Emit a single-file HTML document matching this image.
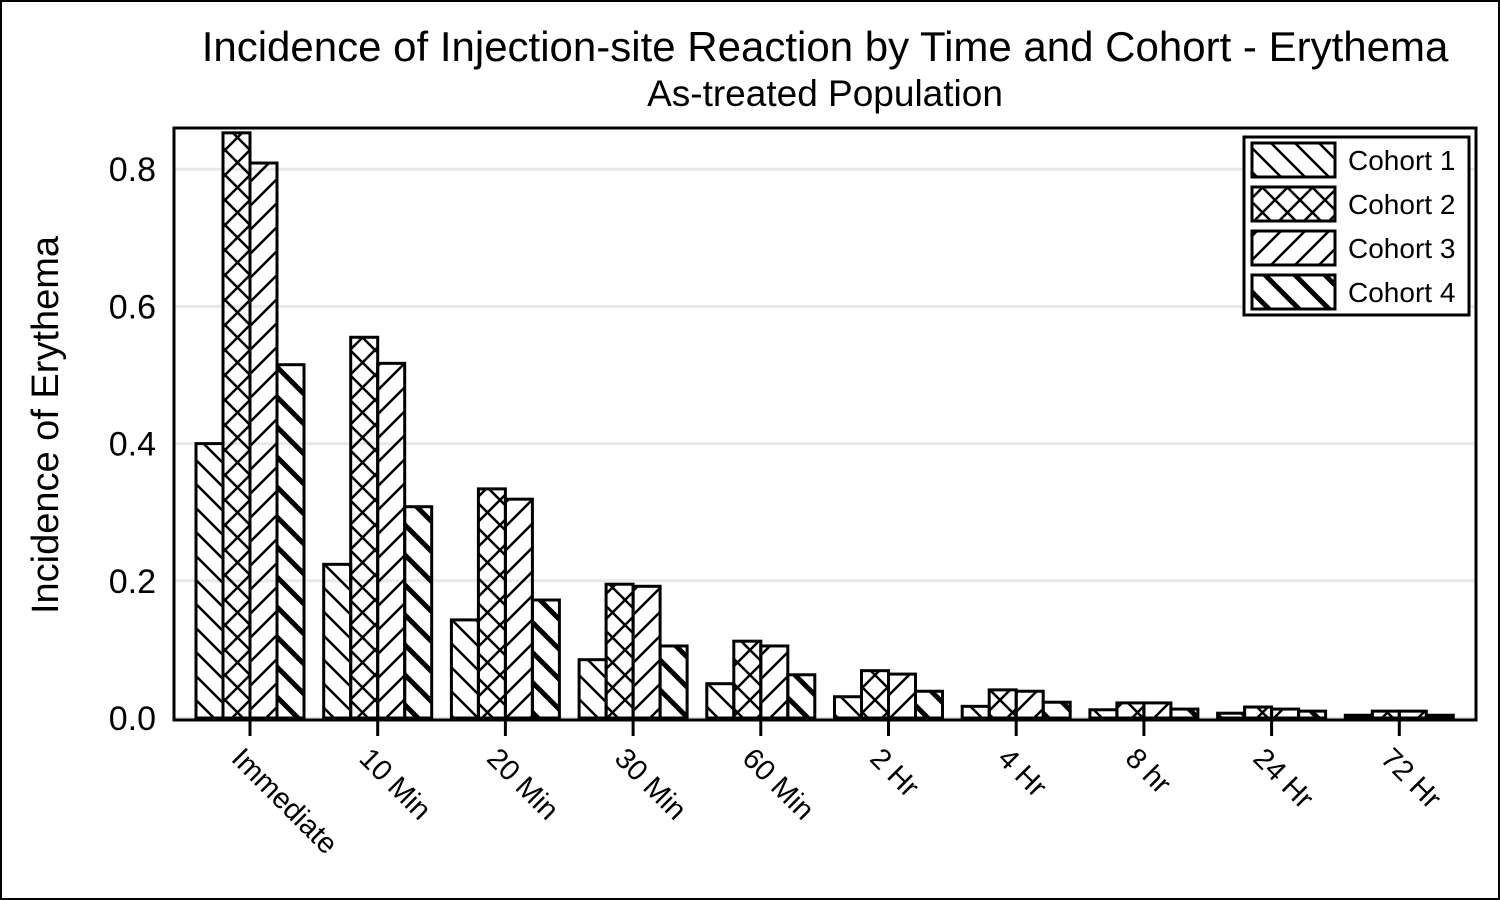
<!DOCTYPE html>
<html><head><meta charset="utf-8"><style>
body{margin:0;background:#fff}
svg{display:block;font-family:"Liberation Sans",Arial,sans-serif}
</style></head><body>
<svg width="1500" height="900" viewBox="0 0 1500 900">
<defs>
<pattern id="p1" patternUnits="userSpaceOnUse" width="24" height="24"><path d="M-6,-6 L30,30 M-6,18 L6,30 M18,-6 L30,6" stroke="#000" stroke-width="2.5"/></pattern>
<pattern id="p2" patternUnits="userSpaceOnUse" width="25" height="25"><path d="M-6,-6 L31,31 M-6,19 L6,31 M19,-6 L31,6 M31,-6 L-6,31 M6,-6 L-6,6 M31,19 L19,31" stroke="#000" stroke-width="2.5"/></pattern>
<pattern id="p3" patternUnits="userSpaceOnUse" width="24" height="24"><path d="M30,-6 L-6,30 M6,-6 L-6,6 M30,18 L18,30" stroke="#000" stroke-width="2.5"/></pattern>
<pattern id="p4" patternUnits="userSpaceOnUse" width="30" height="30"><path d="M-6,-6 L36,36 M-6,24 L6,36 M24,-6 L36,6" stroke="#000" stroke-width="5"/></pattern>
</defs>
<rect x="1" y="1" width="1498" height="898" fill="#fff" stroke="#000" stroke-width="2"/>
<text x="825" y="61" font-size="42" text-anchor="middle">Incidence of Injection-site Reaction by Time and Cohort - Erythema</text>
<text x="825" y="106" font-size="37" text-anchor="middle">As-treated Population</text>
<text transform="translate(58,425) rotate(-90)" font-size="38" text-anchor="middle">Incidence of Erythema</text>
<g id="grid"></g>
<g id="bars"></g>
<rect x="174" y="128" width="1302" height="592" fill="none" stroke="#000" stroke-width="3"/>
<g id="axes"></g>
<g>
<rect x="1244" y="137" width="225" height="178" fill="#fff" stroke="#000" stroke-width="3"/>
<g id="legend"></g>
</g>
</svg>
<script>
const categories=["Immediate","10 Min","20 Min","30 Min","60 Min","2 Hr","4 Hr","8 hr","24 Hr","72 Hr"];
const cohort1=[0.400,0.224,0.143,0.085,0.050,0.031,0.017,0.012,0.007,0.004];
const cohort2=[0.853,0.555,0.334,0.195,0.112,0.069,0.041,0.022,0.016,0.010];
const cohort3=[0.809,0.517,0.319,0.192,0.105,0.064,0.039,0.022,0.013,0.010];
const cohort4=[0.515,0.308,0.172,0.105,0.063,0.039,0.023,0.013,0.010,0.004];
const seriesNames=["Cohort 1","Cohort 2","Cohort 3","Cohort 4"];
const yTicks=[0,0.2,0.4,0.6,0.8];
const yTickLabels=["0.0","0.2","0.4","0.6","0.8"];
const NS="http://www.w3.org/2000/svg";
const series=[cohort1,cohort2,cohort3,cohort4];
const pats=["url(#p1)","url(#p2)","url(#p3)","url(#p4)"];
function y(v){return 718-v*686;}
function xc(i){return 250+i*127.7;}
const barW=27;
function mk(tag,attrs,parent){const e=document.createElementNS(NS,tag);for(const k in attrs)e.setAttribute(k,attrs[k]);parent.appendChild(e);return e;}
const grid=document.getElementById('grid'),bars=document.getElementById('bars'),axes=document.getElementById('axes'),leg=document.getElementById('legend');
yTicks.forEach((t,i)=>{
  const l=mk('line',{x1:175,x2:1475,y1:y(t),y2:y(t),stroke:'#e8e8e8','stroke-width':3},grid);
  
  
  const tx=mk('text',{x:156,y:y(t)+12,'font-size':34,'text-anchor':'end'},axes);
  tx.textContent=yTickLabels[i];
  
  
});
categories.forEach((c,i)=>{
  series.forEach((s,k)=>{
    const x0=xc(i)-2*barW+k*barW;
    const r=mk('rect',{x:x0,y:y(s[i]),width:barW,height:718-y(s[i]),fill:pats[k],stroke:'#000','stroke-width':3},bars);
    
    
  });
  const tk=mk('line',{x1:xc(i),x2:xc(i),y1:720,y2:736,stroke:'#000','stroke-width':3},axes);
  
  
  const tx=mk('text',{transform:'translate('+(xc(i)-20)+',760) rotate(45)','font-size':29},axes);
  tx.textContent=c;
  
  
});
seriesNames.forEach((n,k)=>{
  const yy=143+k*44;
  const r=mk('rect',{x:1252,y:yy,width:83,height:34,fill:pats[k],stroke:'#000','stroke-width':3},leg);
  
  
  const t=mk('text',{x:1348,y:yy+27,'font-size':28},leg);
  t.textContent=n;
  
  
});
</script>
</body></html>
